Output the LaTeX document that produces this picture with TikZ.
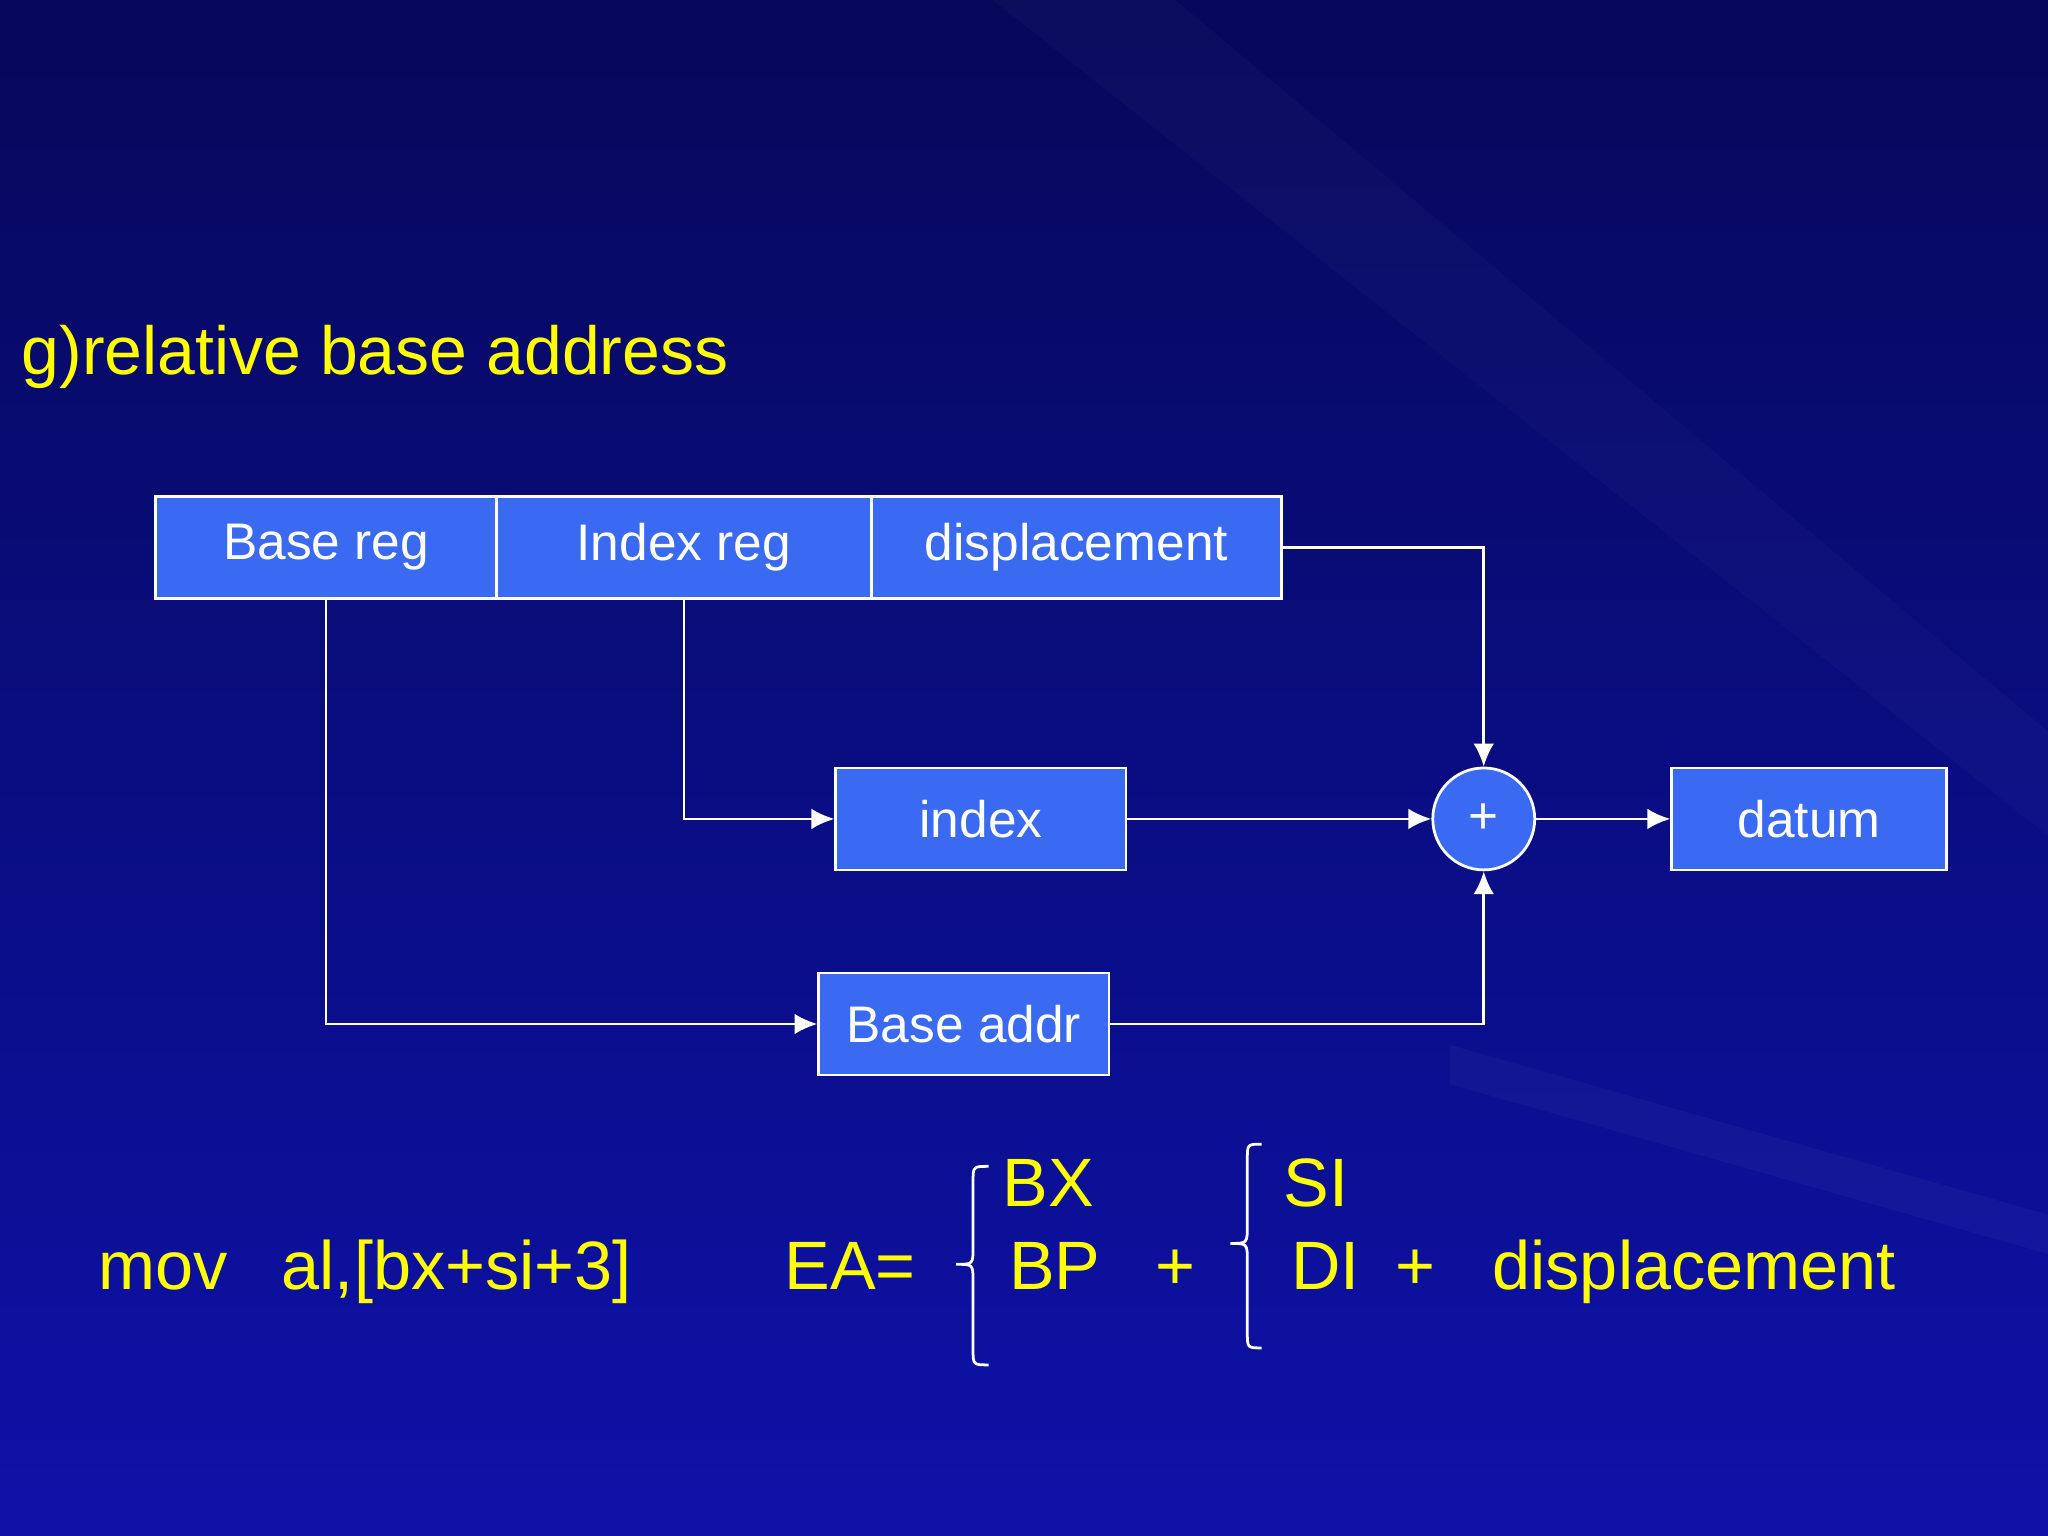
\documentclass[tikz,border=0pt]{standalone}
\usepackage{fontspec}
\setmainfont{Liberation Sans}
\usetikzlibrary{arrows.meta}
\definecolor{boxblue}{HTML}{3A6AF2}
\definecolor{ylw}{HTML}{FFFF00}
\definecolor{bgtop}{HTML}{06085A}
\definecolor{bgbot}{HTML}{0E12A8}
\tikzset{
  box/.style={draw=white, line width=0.6pt, fill=boxblue, text=white, inner sep=0pt, font=\fontsize{11.2}{11.2}\selectfont},
  conn/.style={draw=white, line width=0.6pt},
  arr/.style={conn, -{Latex[length=5pt,width=4.5pt]}},
  yt/.style={text=ylw, inner sep=0pt, anchor=base west, font=\fontsize{14.9}{14.9}\selectfont},
}
\begin{document}
\begin{tikzpicture}[x=0.01cm,y=-0.01cm]
\shade[top color=bgtop, bottom color=bgbot] (0,0) rectangle (1568,1176);
\useasboundingbox (0,0) rectangle (1568,1176);
\fill[white, opacity=0.03] (1110,800) -- (1568,930) -- (1568,960) -- (1110,830) -- cycle;
\fill[white, opacity=0.025] (900,0) -- (1568,560) -- (1568,640) -- (760,0) -- cycle;
\node[text=ylw, anchor=base west, inner sep=0pt, font=\fontsize{14.8}{14.8}\selectfont] (title) at (16,287) {g)relative base address};
\node[box, anchor=north west, minimum width=2.61cm, minimum height=0.78cm] (breg) at (118,379) {Base reg};
\node[box, anchor=north west, minimum width=2.87cm, minimum height=0.78cm] (ireg) at (379,379) {Index reg};
\node[box, anchor=north west, minimum width=3.14cm, minimum height=0.78cm] (disp) at (666,379) {displacement};
\node[box, minimum width=2.22cm, minimum height=0.78cm] (idx) at (751,627) {index};
\node[box, circle, minimum size=0.78cm] (plus) at (1136,627) {+};
\node[box, minimum width=2.10cm, minimum height=0.78cm] (datum) at (1385,627) {datum};
\node[box, minimum width=2.22cm, minimum height=0.78cm] (baddr) at (738,784) {Base addr};
\draw[arr] (breg.south) |- (baddr.west);
\draw[arr] (ireg.south) |- (idx.west);
\draw[arr] (disp.east) -| (plus.north);
\draw[arr] (idx) -- (plus);
\draw[arr] (plus) -- (datum);
\draw[arr] (baddr.east) -| (plus.south);
\node[yt] (mov) at (75,987) {mov};
\node[yt] (al) at (215,987) {al,[bx+si+3]};
\node[yt] (ea) at (600,987) {EA=};
\node[yt] (bx) at (767,924) {BX};
\node[yt] (bp) at (772,987) {BP};
\node[yt] (p1) at (884,987) {+};
\node[yt] (si) at (982,924) {SI};
\node[yt] (di) at (988,987) {DI};
\node[yt] (p2) at (1068,987) {+};
\node[yt] (dsp) at (1142,987) {displacement};
\draw[white, line width=0.6pt] (757,893) .. controls (745,893) .. (745,905) -- (745,955) .. controls (745,968) .. (732,968) .. controls (745,968) .. (745,981) -- (745,1033) .. controls (745,1045) .. (757,1045);
\draw[white, line width=0.6pt] (966,876) .. controls (955,876) .. (955,888) -- (955,938) .. controls (955,952) .. (942,952) .. controls (955,952) .. (955,966) -- (955,1020) .. controls (955,1032) .. (966,1032);
\end{tikzpicture}
\end{document}
